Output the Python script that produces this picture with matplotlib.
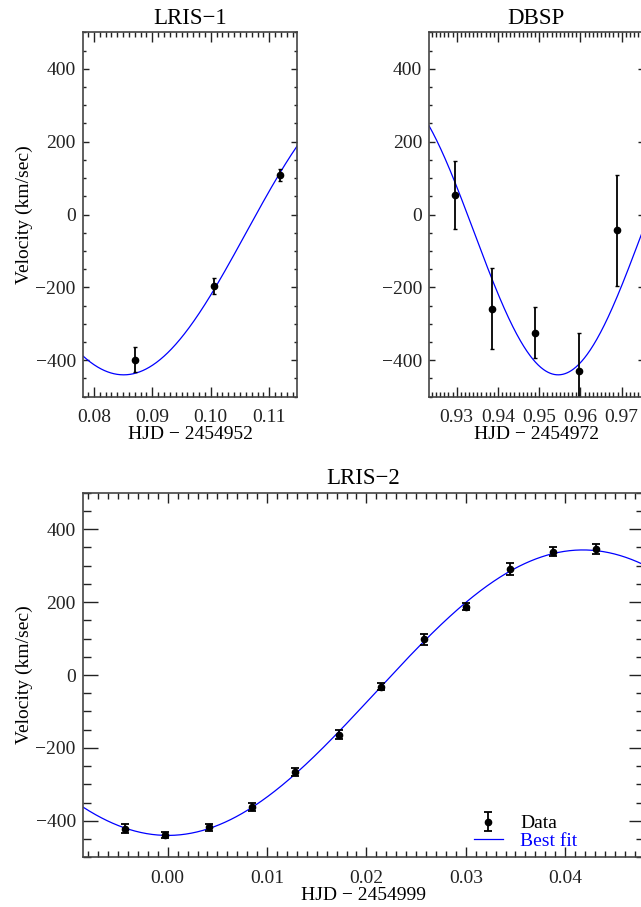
import numpy as np
import matplotlib
matplotlib.use("Agg")
import matplotlib.pyplot as plt
from matplotlib.ticker import MultipleLocator, FormatStrFormatter

plt.rcParams['font.family'] = ['Liberation Serif', 'DejaVu Serif']
plt.rcParams['axes.unicode_minus'] = True

# ---------------- data ----------------
lris1_t = [0.0871, 0.10056, 0.11183]
lris1_v = [-398, -196, 109]
lris1_err = [35, 22, 17]

dbsp_t = [0.92959, 0.93848, 0.94890, 0.95966, 0.96879]
dbsp_v = [54, -258, -325, -430, -43]
dbsp_err = [93, 112, 70, 106, 152]

lris2_t = [-0.0043, -0.0003, 0.0042, 0.00852, 0.01282, 0.01721, 0.02148,
           0.02581, 0.03007, 0.03443, 0.03879, 0.04312]
lris2_v = [-422, -438, -418, -362, -266, -164, -32, 98, 187, 290, 338, 345]
lris2_err = [12, 8, 10, 10, 10, 12, 10, 15, 10, 16, 12, 13]

# best-fit sinusoid parameters (per panel)
fit_gamma = -48.5
fit_K = 391.5
lris1_period, lris1_tmin = 0.0840, 0.0851
dbsp_period, dbsp_tmin = 0.0815, 0.9546
lris2_period, lris2_tmin = 0.0836, 0.0000

panel_titles = ["LRIS\u22121", "DBSP", "LRIS\u22122"]
panel_xlabels = ["HJD \u2212 2454952", "HJD \u2212 2454972", "HJD \u2212 2454999"]
ylabel = "Velocity (km/sec)"
xlims = [(0.0781, 0.1148), (0.9233, 0.9753), (-0.00856, 0.0479)]
ylim = (-500, 500)

# ---------------- figure ----------------
W, H = 641, 907
fig = plt.figure(figsize=(W / 100, H / 100), dpi=100)

def px_axes(x0, y0, x1, y1):
    return fig.add_axes([x0 / W, 1 - y1 / H, (x1 - x0) / W, (y1 - y0) / H])

ax1 = px_axes(82.7, 32.3, 297.3, 396.7)
ax2 = px_axes(429.0, 32.3, 643.6, 396.7)
ax3 = px_axes(82.7, 492.7, 643.6, 857.3)

def model(t, tmin, period):
    return fit_gamma - fit_K * np.cos(2 * np.pi * (t - tmin) / period)

blue = '#0000ff'
tick_fs = 14
spine_col = '#444444'

def style(ax, xlim, title, xlabel, ylen_major, ylen_minor, xlen_major, xlen_minor,
          with_ylabel=True):
    ax.set_xlim(*xlim)
    ax.set_ylim(*ylim)
    ax.yaxis.set_major_locator(MultipleLocator(200))
    ax.yaxis.set_minor_locator(MultipleLocator(50))
    ax.xaxis.set_major_locator(MultipleLocator(0.01))
    ax.xaxis.set_minor_locator(MultipleLocator(0.001))
    ax.xaxis.set_major_formatter(FormatStrFormatter('%.2f'))
    ax.tick_params(axis='both', which='both', direction='in', top=True, right=True,
                   labelsize=tick_fs, colors='#222222')
    ax.tick_params(axis='y', which='major', length=ylen_major, width=1.0, pad=5)
    ax.tick_params(axis='y', which='minor', length=ylen_minor, width=1.0)
    ax.tick_params(axis='x', which='major', length=xlen_major, width=1.0, pad=9)
    ax.tick_params(axis='x', which='minor', length=xlen_minor, width=1.0)
    for s in ax.spines.values():
        s.set_color(spine_col)
        s.set_linewidth(1.2)
    ax.set_title(title, fontsize=16.5, pad=6)
    ax.set_xlabel(xlabel, fontsize=tick_fs, labelpad=0)
    if with_ylabel:
        ax.set_ylabel(ylabel, fontsize=tick_fs, labelpad=2)

# LRIS-1
t = np.linspace(*xlims[0], 400)
ax1.plot(t, model(t, lris1_tmin, lris1_period), color=blue, lw=0.9)
ax1.errorbar(lris1_t, lris1_v, yerr=lris1_err, fmt='o', color='black', ms=4.5,
             elinewidth=1.3, capsize=1.5, capthick=1.0)
style(ax1, xlims[0], panel_titles[0], panel_xlabels[0], 4, 2, 7, 3.5)

# DBSP
t = np.linspace(*xlims[1], 400)
ax2.plot(t, model(t, dbsp_tmin, dbsp_period), color=blue, lw=0.9)
ax2.errorbar(dbsp_t, dbsp_v, yerr=dbsp_err, fmt='o', color='black', ms=4.5,
             elinewidth=1.3, capsize=1.5, capthick=1.0)
style(ax2, xlims[1], panel_titles[1], panel_xlabels[1], 4, 2, 7, 3.5, with_ylabel=False)

# LRIS-2
t = np.linspace(*xlims[2], 600)
ln, = ax3.plot(t, model(t, lris2_tmin, lris2_period), color=blue, lw=0.9, label='Best fit')
eb = ax3.errorbar(lris2_t, lris2_v, yerr=lris2_err, fmt='o', color='black', ms=4.5,
                  elinewidth=1.3, capsize=3, capthick=1.3, label='Data')
style(ax3, xlims[2], panel_titles[2], panel_xlabels[2], 11, 5.5, 7.5, 4)

leg = ax3.legend(handles=[eb, ln], labels=['Data', 'Best fit'], loc='lower left',
                 bbox_to_anchor=(0.697, 0.02), frameon=False, fontsize=tick_fs,
                 handlelength=1.5, handletextpad=0.9, borderpad=0, borderaxespad=0,
                 labelspacing=0.0)
leg.get_texts()[1].set_color(blue)

fig.savefig('out.png', dpi=100)
